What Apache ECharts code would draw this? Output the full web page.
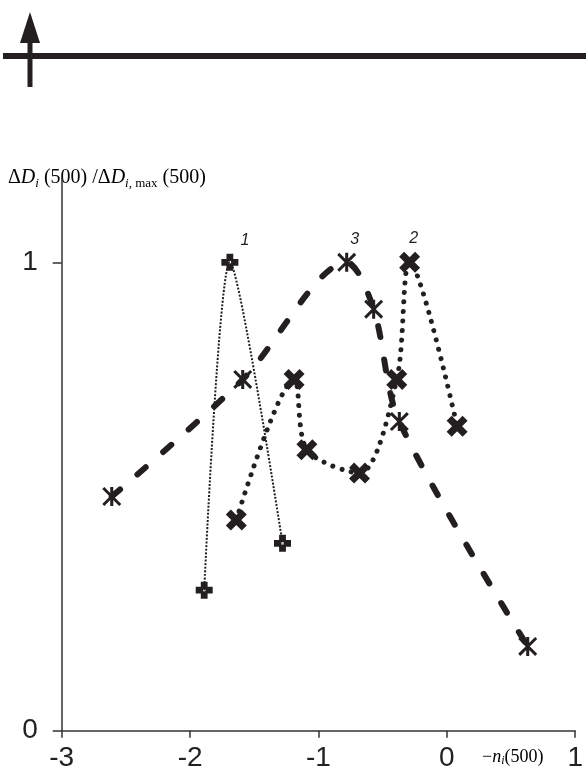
<!DOCTYPE html>
<html>
<head>
<meta charset="utf-8">
<script src="https://cdn.jsdelivr.net/npm/echarts@6/dist/echarts.min.js"></script>
<style>
html,body{margin:0;padding:0;background:#fff;}
#c{width:586px;height:778px;}
</style>
</head>
<body>
<div id="c"></div>
<script>
// ---- data ----
const xTicks = [-3, -2, -1, 0, 1];
const yTicks = [0, 1];
const curveNames = ['1', '2', '3'];
const s1x = [-1.89, -1.69, -1.28];
const s1y = [0.30, 1.00, 0.40];
const s2x = [-1.64, -1.19, -1.09, -0.68, -0.39, -0.29, 0.08];
const s2y = [0.45, 0.75, 0.60, 0.55, 0.75, 1.00, 0.65];
const s3x = [-2.61, -1.59, -0.78, -0.57, -0.37, 0.63];
const s3y = [0.50, 0.75, 1.00, 0.90, 0.66, 0.18];

const INK = '#231f20';
const crossSym = 'path://M3,0L7,0L7,3L10,3L10,7L7,7L7,10L3,10L3,7L0,7L0,3L3,3Z M4.3,4.3L4.3,5.7L5.7,5.7L5.7,4.3Z';
const xSym = 'path://M0,2.4L2.4,0L10,7.6L7.6,10Z M7.6,0L10,2.4L2.4,10L0,7.6Z';
const starSym = 'path://M4.2,0L5.8,0L5.8,10L4.2,10Z M0,1.1L1.1,0L10,8.9L8.9,10Z M8.9,0L10,1.1L1.1,10L0,8.9Z';

function build(xs, ys, name, offset) {
  let peak = 0;
  ys.forEach((v, i) => { if (v > ys[peak]) peak = i; });
  return xs.map((x, i) => {
    const d = { value: [x, ys[i]] };
    if (i === peak) {
      d.label = {
        show: true, formatter: name, position: 'top', offset: offset,
        fontFamily: 'Liberation Sans', fontStyle: 'italic', fontSize: 16, color: INK
      };
    }
    return d;
  });
}

const chart = echarts.init(document.getElementById('c'), null, { renderer: 'canvas' });
const serif = 'Liberation Serif';
chart.setOption({
  animation: false,
  backgroundColor: '#fff',
  grid: { left: 61.7, right: 9.3, top: 178, bottom: 47.3 },
  xAxis: {
    type: 'value', min: xTicks[0], max: xTicks[xTicks.length - 1], interval: 1,
    splitLine: { show: false },
    axisLine: { onZero: false, lineStyle: { color: '#333', width: 1.5 } },
    axisTick: { show: true, length: 7, lineStyle: { color: '#333', width: 1.5 } },
    axisLabel: { fontFamily: 'Liberation Sans', fontSize: 28, color: '#222', margin: 14 }
  },
  yAxis: {
    type: 'value', min: 0, max: 1.18,
    splitLine: { show: false },
    axisLine: { show: true, onZero: false, lineStyle: { color: '#333', width: 1.5 } },
    axisTick: { show: true, length: 9, customValues: yTicks, lineStyle: { color: '#333', width: 1.5 } },
    axisLabel: { customValues: yTicks, fontFamily: 'Liberation Sans', fontSize: 28, color: '#222', margin: 24 }
  },
  series: [
    {
      type: 'line', name: '3', data: build(s3x, s3y, curveNames[2], [8, 0]),
      smooth: 0.3, symbol: starSym, symbolSize: 19,
      itemStyle: { color: INK },
      lineStyle: { color: INK, width: 6, type: [11, 23], cap: 'round' }, z: 2
    },
    {
      type: 'line', name: '2', data: build(s2x, s2y, curveNames[1], [4, 0]),
      smooth: 0.3, symbol: xSym, symbolSize: 21,
      itemStyle: { color: INK },
      lineStyle: { color: INK, width: 5, type: [0.01, 9.5], cap: 'round' }, z: 3
    },
    {
      type: 'line', name: '1', data: build(s1x, s1y, curveNames[0], [15, 0]),
      smooth: 0.25, symbol: crossSym, symbolSize: 17,
      itemStyle: { color: INK },
      lineStyle: { color: INK, width: 2, type: [2, 1.6] }, z: 4
    }
  ],
  graphic: [
    { type: 'rect', shape: { x: 3, y: 53, width: 583, height: 6 }, style: { fill: INK } },
    { type: 'rect', shape: { x: 27.5, y: 40, width: 5, height: 47 }, style: { fill: INK } },
    { type: 'polygon', shape: { points: [[30, 12], [20, 43], [40, 43]] }, style: { fill: INK } },
    {
      type: 'text', left: 8, top: 168,
      style: {
        text: '{a|Δ}{d|D}{si|i}{a| (500) /Δ}{d|D}{si|i, }{sm|max}{a| (500)}',
        rich: {
          a: { fontFamily: serif, fontSize: 20, color: INK, lineHeight: 24, verticalAlign: 'middle' },
          d: { fontFamily: serif, fontSize: 20, fontStyle: 'italic', color: INK, lineHeight: 24, verticalAlign: 'middle' },
          si: { fontFamily: serif, fontSize: 13, fontStyle: 'italic', color: INK, lineHeight: 13, verticalAlign: 'bottom' },
          sm: { fontFamily: serif, fontSize: 13, color: INK, lineHeight: 13, verticalAlign: 'bottom' }
        }
      }
    },
    {
      type: 'text', left: 482, top: 748,
      style: {
        text: '{a|−}{d|n}{si|i}{a|(500)}',
        rich: {
          a: { fontFamily: serif, fontSize: 18, color: INK, lineHeight: 20, verticalAlign: 'middle' },
          d: { fontFamily: serif, fontSize: 18, fontStyle: 'italic', color: INK, lineHeight: 20, verticalAlign: 'middle' },
          si: { fontFamily: serif, fontSize: 12, fontStyle: 'italic', color: INK, lineHeight: 12, verticalAlign: 'bottom' }
        }
      }
    }
  ]
});
</script>
</body>
</html>
